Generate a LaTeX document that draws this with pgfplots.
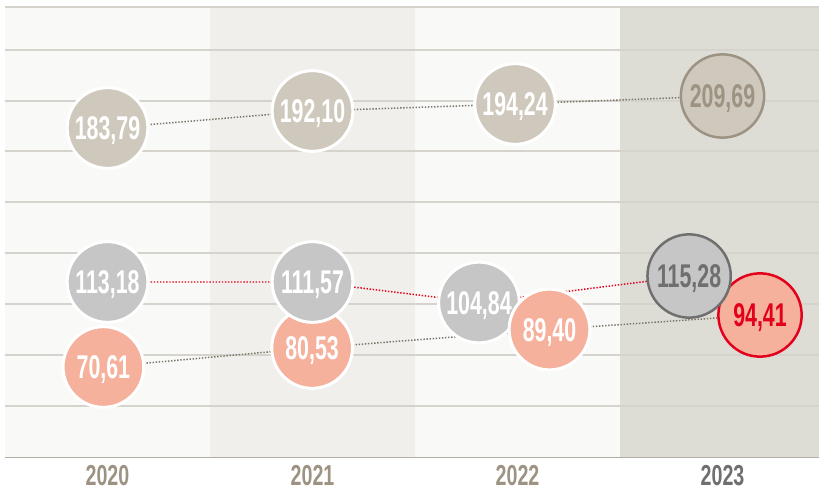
\documentclass[border=0pt]{standalone}
\usepackage{fontspec}
\newfontfamily\cond[FakeStretch=0.65]{Liberation Sans}
\newfontfamily\condy[FakeStretch=0.68]{Liberation Sans}
\usepackage{pgfplots}
\usepackage{pgfplotstable}
\pgfplotsset{compat=1.18}
\definecolor{bandA}{HTML}{F9F9F7}
\definecolor{bandB}{HTML}{F1EFEB}
\definecolor{bandC}{HTML}{DEDDD5}
\definecolor{gridc}{HTML}{D6D3CD}
\definecolor{basec}{HTML}{B2ADA5}
\definecolor{beigef}{HTML}{CFC9BD}
\definecolor{beiged}{HTML}{9D9383}
\definecolor{greyf}{HTML}{C6C6C6}
\definecolor{greyd}{HTML}{6F6F6F}
\definecolor{salf}{HTML}{F6B19D}
\definecolor{redd}{HTML}{E2001A}
\definecolor{dotc}{HTML}{7A7468}
\definecolor{yearA}{HTML}{9D9383}
\definecolor{yearB}{HTML}{6F6F6F}

% full series (for connecting lines)
\pgfplotstableread{
x y label
0 329 183,79
1 346 192,10
1.988 353 194,24
3.0 361 209,69
}\beige
\pgfplotstableread{
x y label
0 175 113,18
1 175 111,57
1.812 154.5 104,84
2.837 181 115,28
}\grey
\pgfplotstableread{
x y label
-0.02 90 70,61
0.998 109 80,53
2.156 127.5 89,40
3.183 142 94,41
}\salmon
% subsets for drawing order / highlight
\pgfplotstableread{
x y label
0 329 183,79
1 346 192,10
1.988 353 194,24
}\beigeA
\pgfplotstableread{
x y label
3.0 361 209,69
}\beigeB
\pgfplotstableread{
x y label
0 175 113,18
1 175 111,57
}\greyA
\pgfplotstableread{
x y label
1.812 154.5 104,84
}\greyM
\pgfplotstableread{
x y label
2.837 181 115,28
}\greyB
\pgfplotstableread{
x y label
-0.02 90 70,61
0.998 109 80,53
2.156 127.5 89,40
}\salmonA
\pgfplotstableread{
x y label
3.183 142 94,41
}\salmonB

\pgfplotsset{
  bub/.style={only marks, mark=*, mark size=40.5pt,
    mark options={fill=#1, draw=white, line width=3pt},
    point meta=explicit symbolic,
    nodes near coords={\pgfplotspointmeta},
    nodes near coords style={font=\cond\bfseries\fontsize{33}{33}\selectfont,
      text=white, anchor=base, yshift=-11.8pt, inner sep=0pt}},
  hbub/.style n args={2}{only marks, mark=*, mark size=41.8pt,
    mark options={fill=#1, draw=#2, line width=2.5pt},
    point meta=explicit symbolic,
    nodes near coords={\pgfplotspointmeta},
    nodes near coords style={font=\cond\bfseries\fontsize{33}{33}\selectfont,
      text=#2, anchor=base, yshift=-11.8pt, inner sep=0pt}},
  dotl/.style={no marks, line width=1.5pt, dash pattern=on 1.4pt off 1.7pt, #1}
}

\begin{document}
\begin{tikzpicture}
\useasboundingbox (0,0) rectangle (819bp,491bp);
\begin{axis}[
  at={(5bp,34bp)}, anchor=south west,
  scale only axis, width=814bp, height=450bp,
  xmin=-0.5, xmax=3.4707, ymin=0, ymax=450,
  clip=false,
  axis x line=bottom, axis y line=none,
  axis line style={-, draw=basec, line width=2pt},
  xtick={0,1,2,3},
  xticklabels={{\textcolor{yearA}{2020}},{\textcolor{yearA}{2021}},{\textcolor{yearA}{2022}},{\textcolor{yearB}{2023}}},
  xticklabel style={font=\condy\bfseries\fontsize{29}{29}\selectfont, inner sep=0pt, yshift=-8bp},
  major tick length=0pt,
  ytick=\empty,
]
\fill[bandA] (axis cs:-0.5,0) rectangle (axis cs:0.5,450);
\fill[bandB] (axis cs:0.5,0) rectangle (axis cs:1.5,450);
\fill[bandA] (axis cs:1.5,0) rectangle (axis cs:2.5,450);
\fill[bandC] (axis cs:2.5,0) rectangle (axis cs:3.4707,450);
\foreach \g in {51,102,153,204,255,306,356,407,450}{
  \edef\tmp{\noexpand\draw[gridc, line width=1.2pt] (axis cs:-0.5,\g) -- (axis cs:3.4707,\g);}\tmp
}
\addplot[dotl=dotc] table[x=x,y=y] {\beige};
\addplot[dotl=redd] table[x=x,y=y] {\grey};
\addplot[dotl=dotc] table[x=x,y=y] {\salmon};
\addplot[bub=beigef] table[x=x,y=y,meta=label] {\beigeA};
\addplot[hbub={beigef}{beiged}] table[x=x,y=y,meta=label] {\beigeB};
\addplot[bub=greyf] table[x=x,y=y,meta=label] {\greyM};
\addplot[bub=salf] table[x=x,y=y,meta=label] {\salmonA};
\addplot[hbub={salf}{redd}] table[x=x,y=y,meta=label] {\salmonB};
\addplot[bub=greyf] table[x=x,y=y,meta=label] {\greyA};
\addplot[hbub={greyf}{greyd}] table[x=x,y=y,meta=label] {\greyB};
\end{axis}
\end{tikzpicture}
\end{document}
